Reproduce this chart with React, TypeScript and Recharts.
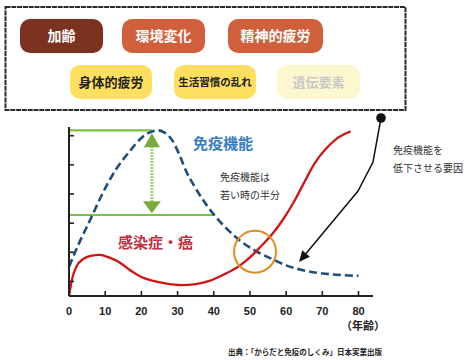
import React from 'react';
import { ComposedChart, Line, XAxis, YAxis, ReferenceLine, ReferenceDot } from 'recharts';

// Immune function (blue dashed)
const immunityAges = [0, 3, 6, 9, 13, 16.5, 20, 22.5, 24.5, 26.5, 28.5, 30.5, 32.5, 34.5, 37, 40, 43.5, 47, 51.5, 56, 60, 65, 70, 75, 80];
const immunityValues = [2.0, 3.75, 5.3, 6.9, 8.7, 9.85, 10.85, 11.25, 11.37, 11.2, 10.7, 9.7, 8.5, 7.6, 6.6, 5.6, 4.64, 3.85, 3.1, 2.55, 2.1, 1.75, 1.55, 1.44, 1.39];
// Infection / cancer (red)
const diseaseAges = [0, 1, 2, 4, 6, 8.5, 11, 14, 17, 20, 23, 27, 31, 35, 39, 43, 47, 50, 53, 56, 59, 62, 65, 68, 71, 74, 76, 77.8];
const diseaseValues = [0, 1.3, 2.0, 2.55, 2.75, 2.82, 2.65, 2.3, 1.75, 1.3, 1.05, 0.85, 0.75, 0.82, 1.05, 1.5, 2.05, 2.65, 3.4, 4.2, 5.2, 6.4, 7.8, 9.15, 10.1, 10.8, 11.1, 11.3];

const xTicks = [0, 10, 20, 30, 40, 50, 60, 70, 80];
const yTicks = [0, 1, 2, 3, 4, 5, 6, 7, 8, 9, 10, 11];

const factorsRow1 = ['加齢', '環境変化', '精神的疲労'];
const factorsRow2 = ['身体的疲労', '生活習慣の乱れ', '遺伝要素'];

const immunityData = immunityAges.map((a, i) => ({ age: a, v: immunityValues[i] }));
const diseaseData = diseaseAges.map((a, i) => ({ age: a, v: diseaseValues[i] }));

const JP = '"Noto Sans CJK JP", sans-serif';
const NUM = '"Liberation Sans", Arial, sans-serif';

const XTick = (props: any) => {
  const { x, y, payload } = props;
  return (
    <g>
      <line x1={x} x2={x} y1={y} y2={y - 5} stroke="#222" strokeWidth={1.6} />
      <text x={x} y={y + 19} textAnchor="middle" fontFamily={NUM} fontWeight="bold" fontSize={11} fill="#222">
        {payload.value}
      </text>
    </g>
  );
};

const YTick = (props: any) => {
  const { x, y } = props;
  return <line x1={x} x2={x + 5} y1={y} y2={y} stroke="#222" strokeWidth={1.6} />;
};

const ArrowUp = (p: any) => (
  <polygon points={`${p.cx},${p.cy} ${p.cx - 8},${p.cy + 14} ${p.cx + 8},${p.cy + 14}`} fill="#7aab3a" />
);
const ArrowDown = (p: any) => (
  <polygon points={`${p.cx},${p.cy} ${p.cx - 9},${p.cy - 12} ${p.cx + 9},${p.cy - 12}`} fill="#7aab3a" />
);

const pills1 = [
  { x: 20, w: 83, fill: '#7b3220', color: '#fff', fs: 14 },
  { x: 122, w: 83, fill: '#d0603c', color: '#fff', fs: 14 },
  { x: 228, w: 95, fill: '#d0603c', color: '#fff', fs: 14 },
];
const pills2 = [
  { x: 70, w: 82, fill: '#fedf5f', color: '#222', fs: 13 },
  { x: 174, w: 82, fill: '#fedf5f', color: '#222', fs: 10.5 },
  { x: 277, w: 83, fill: '#fdf7cf', color: '#c8c8c8', fs: 13 },
];

export default function App() {
  // black arrow geometry
  const tip = { x: 299, y: 262 };
  const from = { x: 358, y: 191 };
  const dx = tip.x - from.x;
  const dy = tip.y - from.y;
  const len = Math.sqrt(dx * dx + dy * dy);
  const ux = dx / len;
  const uy = dy / len;
  const hl = 11;
  const hw = 5;
  const bx = tip.x - ux * hl;
  const by = tip.y - uy * hl;
  const head = `${tip.x},${tip.y} ${bx - uy * hw},${by + ux * hw} ${bx + uy * hw},${by - ux * hw}`;

  return (
    <div style={{ position: 'fixed', left: 0, top: 0, width: 469, height: 360, background: '#fff' }}>
      <ComposedChart width={469} height={360} margin={{ top: 127, right: 96, bottom: 34, left: 68 }}>
        <XAxis
          dataKey="age"
          type="number"
          domain={[0, 84]}
          ticks={xTicks}
          allowDataOverflow
          height={30}
          tickSize={0}
          tickMargin={0}
          tickLine={false}
          axisLine={{ stroke: '#222', strokeWidth: 2 }}
          tick={(p: any) => <XTick {...p} />}
        />
        <YAxis
          type="number"
          domain={[0, 11.6]}
          ticks={yTicks}
          allowDataOverflow
          width={1}
          tickSize={0}
          tickMargin={0}
          tickLine={false}
          axisLine={{ stroke: '#222', strokeWidth: 2 }}
          tick={(p: any) => <YTick {...p} />}
        />
        <ReferenceLine segment={[{ x: 0, y: 11.37 }, { x: 22.9, y: 11.37 }]} stroke="#7ac143" strokeWidth={2.2} />
        <ReferenceLine segment={[{ x: 0, y: 5.56 }, { x: 40.3, y: 5.56 }]} stroke="#7ac143" strokeWidth={2.2} />
        <ReferenceLine segment={[{ x: 22.9, y: 10.3 }, { x: 22.9, y: 6.45 }]} stroke="#a8d070" strokeWidth={3} strokeDasharray="2 1" />
        <ReferenceDot x={22.9} y={11.17} r={1} shape={(p: any) => <ArrowUp {...p} />} />
        <ReferenceDot x={22.9} y={5.68} r={1} shape={(p: any) => <ArrowDown {...p} />} />
        <Line
          data={immunityData}
          dataKey="v"
          type="monotone"
          stroke="#1f4e7a"
          strokeWidth={2.6}
          strokeDasharray="8 4"
          dot={false}
          isAnimationActive={false}
        />
        <Line
          data={diseaseData}
          dataKey="v"
          type="monotone"
          stroke="#d01414"
          strokeWidth={2.3}
          dot={false}
          isAnimationActive={false}
        />
        <ReferenceDot x={51.4} y={3.04} r={21} fill="none" stroke="#e08a1e" strokeWidth={2} />
      </ComposedChart>
      <svg width={469} height={360} style={{ position: 'absolute', left: 0, top: 0, pointerEvents: 'none' }}>
        <rect x={5.5} y={7} width={400} height={103} fill="none" stroke="#2a2a2a" strokeWidth={2} strokeDasharray="5 0.8" />
        {factorsRow1.map((t, i) => (
          <g key={t}>
            <rect x={pills1[i].x} y={19} width={pills1[i].w} height={34} rx={10} fill={pills1[i].fill} />
            <text x={pills1[i].x + pills1[i].w / 2} y={41} textAnchor="middle" fontFamily={JP} fontWeight="bold" fontSize={pills1[i].fs} fill={pills1[i].color}>
              {t}
            </text>
          </g>
        ))}
        {factorsRow2.map((t, i) => (
          <g key={t}>
            <rect x={pills2[i].x} y={65} width={pills2[i].w} height={34} rx={10} fill={pills2[i].fill} />
            <text x={pills2[i].x + pills2[i].w / 2} y={82 + pills2[i].fs * 0.36} textAnchor="middle" fontFamily={JP} fontWeight="bold" fontSize={pills2[i].fs} fill={pills2[i].color}>
              {t}
            </text>
          </g>
        ))}
        <polyline points={`381,118 373,162 ${from.x},${from.y} ${bx},${by}`} fill="none" stroke="#111" strokeWidth={1.5} />
        <polygon points={head} fill="#111" />
        <circle cx={381} cy={118} r={4.8} fill="#111" />
        <text x={393} y={154} fontFamily={JP} fontSize={10} fill="#333">免疫機能を</text>
        <text x={393} y={171.5} fontFamily={JP} fontSize={10} fill="#333">低下させる要因</text>
        <text x={193} y={149} fontFamily={JP} fontWeight="bold" fontSize={15} fill="#3a7cc0">免疫機能</text>
        <text x={220} y={181} fontFamily={JP} fontSize={10} fill="#333">免疫機能は</text>
        <text x={220} y={199} fontFamily={JP} fontSize={10} fill="#333">若い時の半分</text>
        <text x={118} y={248} fontFamily={JP} fontWeight="bold" fontSize={15} fill="#c0303f">感染症・癌</text>
        <text x={363} y={330} textAnchor="middle" fontFamily={JP} fontWeight="bold" fontSize={11} fill="#222">（年齢）</text>
        <text x={382} y={355} textAnchor="end" fontFamily={JP} fontWeight="bold" fontSize={7.5} fill="#222">出典：「からだと免疫のしくみ」日本実業出版</text>
      </svg>
    </div>
  );
}
